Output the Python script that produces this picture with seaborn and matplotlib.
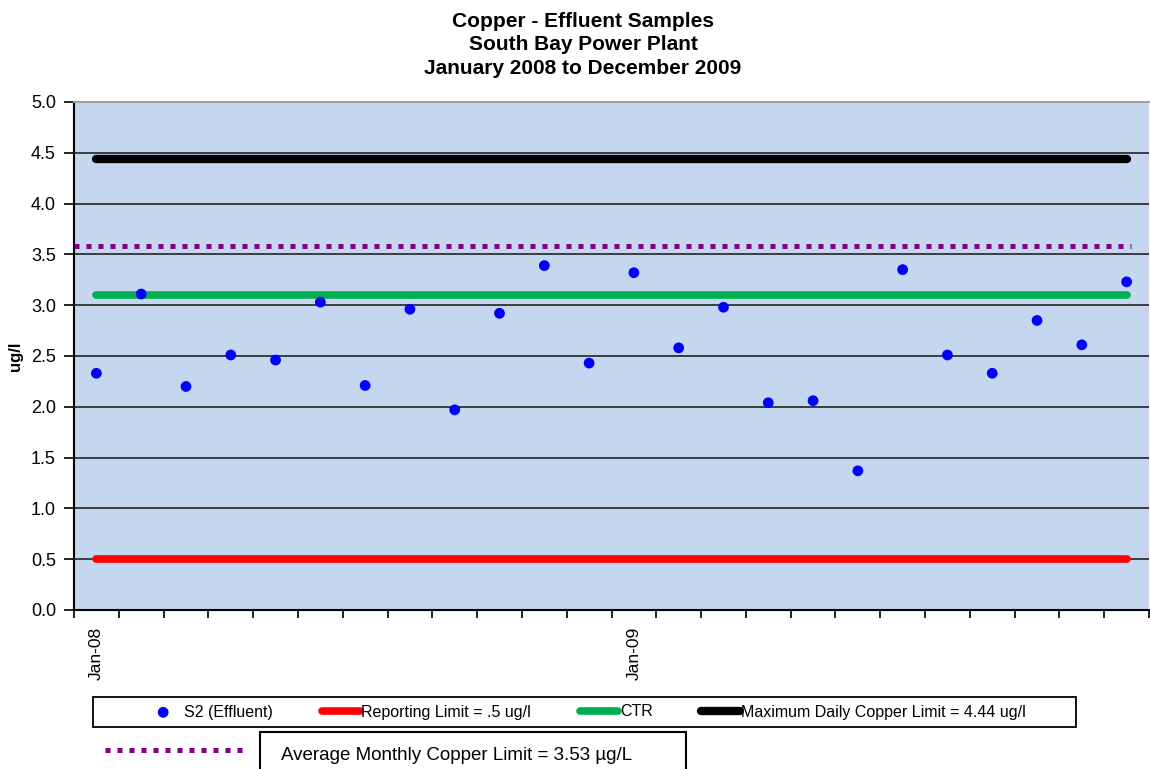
import numpy as np
import pandas as pd
import seaborn as sns
import matplotlib.pyplot as plt
from matplotlib.lines import Line2D
from matplotlib.patches import Rectangle

################################# data ###################################

months = ['Jan-08', 'Feb-08', 'Mar-08', 'Apr-08', 'May-08', 'Jun-08',
          'Jul-08', 'Aug-08', 'Sep-08', 'Oct-08', 'Nov-08', 'Dec-08',
          'Jan-09', 'Feb-09', 'Mar-09', 'Apr-09', 'May-09', 'Jun-09',
          'Jul-09', 'Aug-09', 'Sep-09', 'Oct-09', 'Nov-09', 'Dec-09']
s2_effluent = [2.33, 3.11, 2.20, 2.51, 2.46, 3.03, 2.21, 2.96, 1.97, 2.92, 3.39, 2.43,
               3.32, 2.58, 2.98, 2.04, 2.06, 1.37, 3.35, 2.51, 2.33, 2.85, 2.61, 3.23]
tick_labels = ['Jan-08', 'Jan-09']

reporting_limit = 0.5
ctr = 3.1
max_daily_limit = 4.44
avg_monthly_limit_drawn = 3.58   # where the dotted line sits in the picture

################################# plot ###################################

sns.set_style("white")
plt.rcParams['font.family'] = ['Liberation Sans', 'DejaVu Sans']
plt.rcParams['text.color'] = 'black'
plt.rcParams['axes.labelcolor'] = 'black'
plt.rcParams['xtick.color'] = 'black'
plt.rcParams['ytick.color'] = 'black'

df = pd.DataFrame({'idx': range(len(months)), 'month': months, 'cu': s2_effluent})
first, last = 0, len(months) - 1

fig = plt.figure(figsize=(11.5, 7.69), dpi=100)
W, H = 1150, 769
ax = fig.add_axes([74 / W, 1 - 610 / H, 1075 / W, 508 / H])
ax.set_facecolor('#C5D7EF')

sns.lineplot(x=[first - 0.5, last + 0.1], y=[avg_monthly_limit_drawn] * 2, color='#800080',
             lw=3.6, ax=ax, legend=False, zorder=3)
ax.lines[-1].set_dashes((1, 1.4))
ax.lines[-1].set_dash_capstyle('butt')
sns.lineplot(x=[first, last], y=[reporting_limit] * 2, color='#FF0000', lw=5.5,
             solid_capstyle='round', ax=ax, label='Reporting Limit = .5 ug/l', zorder=3)
sns.lineplot(x=[first, last], y=[ctr] * 2, color='#00B050', lw=5.5,
             solid_capstyle='round', ax=ax, label='CTR', zorder=3)
sns.lineplot(x=[first, last], y=[max_daily_limit] * 2, color='black', lw=6,
             solid_capstyle='round', ax=ax, label='Maximum Daily Copper Limit = 4.44 ug/l', zorder=3)
sns.scatterplot(data=df, x='idx', y='cu', color='#0000FF', s=60, edgecolor='none',
                ax=ax, label='S2 (Effluent)', zorder=5)

handles, labels = ax.get_legend_handles_labels()
ax.get_legend().remove()
order = [3, 0, 1, 2]
handles = [handles[i] for i in order]
labels = [labels[i] for i in order]

# axes
ax.set_xlim(-0.5, last + 0.5)
ax.set_ylim(0, 5)
ax.set_xticks(np.arange(-0.5, last + 1, 1))
ax.set_xticklabels([])
ax.set_xticks([0, 12], minor=True)
ax.set_xticklabels(tick_labels, minor=True, rotation=90, fontsize=12.5)
ax.tick_params(axis='x', which='minor', bottom=True, length=0, pad=12)
ax.tick_params(axis='x', which='major', bottom=True, length=6, width=1.2, direction='out')
ax.set_yticks(np.arange(0, 5.01, 0.5))
ax.set_yticklabels(['%.1f' % v for v in np.arange(0, 5.01, 0.5)], fontsize=13)
ax.tick_params(axis='y', left=True, length=7, width=1.2, direction='out', pad=6)
ax.grid(axis='y', color='#222222', lw=1.2)
ax.set_axisbelow(True)
ax.set_xlabel('')
ax.set_ylabel('ug/l', fontweight='bold', fontsize=12)
ax.yaxis.set_label_coords(-0.047, 0.5)

for s in ['left', 'bottom']:
    ax.spines[s].set_color('black')
    ax.spines[s].set_linewidth(1.5)
ax.spines['top'].set_color('#A0A0A0')
ax.spines['top'].set_linewidth(1.5)
ax.spines['right'].set_visible(False)

fig.text(583 / W, 1 - 45 / H,
         'Copper - Effluent Samples\nSouth Bay Power Plant\nJanuary 2008 to December 2009',
         ha='center', va='center', fontweight='bold', fontsize=15, linespacing=1.32)

# legend: frame drawn separately to match the reference box
fig.add_artist(Rectangle((93 / W, 1 - 727 / H), 983 / W, 30 / H, transform=fig.transFigure,
                         fill=False, edgecolor='black', lw=1.3))
fig.legend(handles, labels, loc='center left', ncol=4,
           bbox_to_anchor=(144 / W, 1 - 712 / H), borderaxespad=0, borderpad=0,
           frameon=False, fontsize=11.5, handlelength=2.4, handletextpad=0.1,
           columnspacing=3.05)

# second legend row: dotted sample + boxed text
fig.add_artist(Line2D([105 / W, 243 / W], [1 - 750 / H] * 2, transform=fig.transFigure,
                      color='#800080', lw=3.6, dashes=(1, 1.4), dash_capstyle='butt'))
fig.add_artist(Rectangle((260 / W, 1 - 785 / H), 426 / W, 53 / H, transform=fig.transFigure,
                         fill=False, edgecolor='black', lw=1.5))
fig.text(281 / W, 1 - 755 / H, 'Average Monthly Copper Limit = 3.53 µg/L',
         va='center', ha='left', fontsize=13.5)

plt.savefig("out.png", dpi=100)
